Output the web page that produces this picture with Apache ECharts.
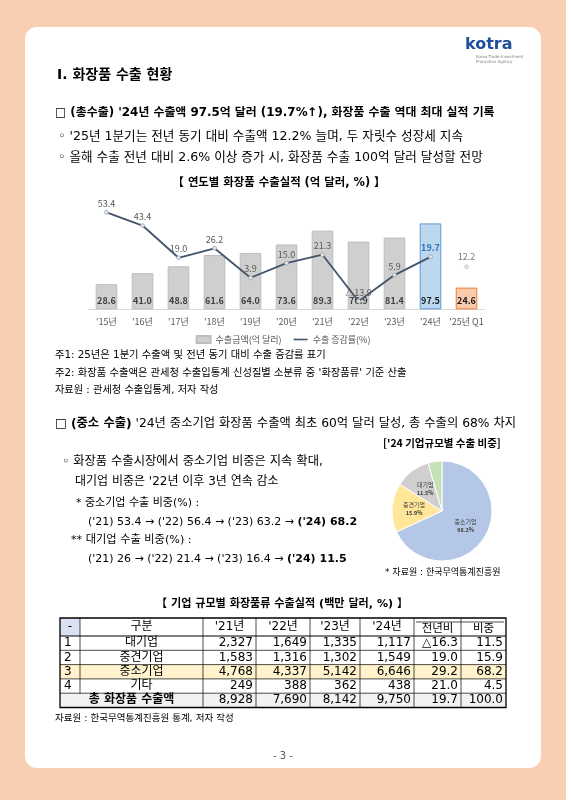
<!DOCTYPE html>
<html><head><meta charset="utf-8">
<script src="https://cdn.jsdelivr.net/npm/echarts/dist/echarts.min.js"></script>
<style>html,body{margin:0;padding:0;background:#F9CFB4;}#c{width:566px;height:800px;}</style>
</head><body><div id="c"></div>
<script>
// ---------- data ----------
const years = ["'15년","'16년","'17년","'18년","'19년","'20년","'21년","'22년","'23년","'24년","'25년 Q1"];
const exportValues = [28.6, 41.0, 48.8, 61.6, 64.0, 73.6, 89.3, 76.9, 81.4, 97.5, 24.6];
const growthRates = [53.4, 43.4, 19.0, 26.2, 3.9, 15.0, 21.3, -13.9, 5.9, 19.7, null];
const q1Growth = [null, null, null, null, null, null, null, null, null, null, 12.2];
const sizeNames = ['중소기업', '중견기업', '대기업', '기타'];
const sizeShares = [68.2, 15.9, 11.5, 4.5];
const tableHead = ['-', '구분', "'21년", "'22년", "'23년", "'24년", '전년비', '비중'];
const rowNo = ['1', '2', '3', '4'];
const rowNames = ['대기업', '중견기업', '중소기업', '기타'];
const v21 = [2327, 1583, 4768, 249];
const v22 = [1649, 1316, 4337, 388];
const v23 = [1335, 1302, 5142, 362];
const v24 = [1117, 1549, 6646, 438];
const yoy = [-16.3, 19.0, 29.2, 21.0];
const share = [11.5, 15.9, 68.2, 4.5];
const totalLabel = '총 화장품 수출액';
const totals = [8928, 7690, 8142, 9750, 19.7, 100.0];

// ---------- helpers ----------
const KR = "'Noto Sans CJK KR', sans-serif";
const NUM = "'DejaVu Sans', 'Noto Sans CJK KR', sans-serif";
const BODY = "'DejaVu Sans', 'Noto Sans CJK KR', sans-serif";
function T(x, y, text, font, align, fill, extra) {
  const st = Object.assign({text: text, font: font, fill: fill || '#000',
    textAlign: align || 'left', textVerticalAlign: 'middle',
    align: align || 'left', verticalAlign: 'middle'}, extra || {});
  return {type: 'text', x: x, y: y, z: 5, style: st, silent: true};
}
function L(x1, y1, x2, y2, w, c) {
  return {type: 'line', z: 6, silent: true, shape: {x1: x1, y1: y1, x2: x2, y2: y2},
    style: {stroke: c || '#000', lineWidth: w || 0.8}};
}
function R(x, y, w, h, fill, z) {
  return {type: 'rect', z: z == null ? 4 : z, silent: true, shape: {x: x, y: y, width: w, height: h}, style: {fill: fill}};
}
const fmtInt = v => v.toLocaleString('en-US');
const fmtPct = v => (v < 0 ? '△' + Math.abs(v).toFixed(1) : v.toFixed(1));
function rich2(size) {
  return {rich: {n: {font: size + 'px ' + BODY, fill: '#000'}, b: {font: 'bold ' + size + 'px ' + BODY, fill: '#000'}}};
}

const g = [];
// card
g.push({type: 'rect', z: 0, silent: true, shape: {x: 25, y: 27, width: 516, height: 741, r: 12}, style: {fill: '#FFFFFF'}});
// logo
g.push(T(465, 45, 'kotra', "bold 16px 'DejaVu Sans', sans-serif", 'left', '#1F4E9A'));
g.push(T(476, 57, 'Korea Trade-Investment', "4px 'DejaVu Sans', sans-serif", 'left', '#7F7F7F'));
g.push(T(476, 61.5, 'Promotion Agency', "4px 'DejaVu Sans', sans-serif", 'left', '#7F7F7F'));

// section texts
g.push(T(57, 75, 'Ⅰ. 화장품 수출 현황', 'bold 14px ' + BODY));
g.push(T(55, 113, "□ (총수출) '24년 수출액 97.5억 달러 (19.7%↑), 화장품 수출 역대 최대 실적 기록", 'bold 11.9px ' + BODY));
g.push(T(58, 137, "◦ '25년 1분기는 전년 동기 대비 수출액 12.2% 늘며, 두 자릿수 성장세 지속", '12.6px ' + BODY));
g.push(T(58, 158, "◦ 올해 수출 전년 대비 2.6% 이상 증가 시, 화장품 수출 100억 달러 달성할 전망", '12.6px ' + BODY));
g.push(T(279, 183, '【 연도별 화장품 수출실적 (억 달러, %) 】', 'bold 11.4px ' + BODY, 'center'));
g.push(T(55, 355, '주1: 25년은 1분기 수출액 및 전년 동기 대비 수출 증감률 표기', '10.3px ' + BODY));
g.push(T(55, 373, "주2: 화장품 수출액은 관세청 수출입통계 신성질별 소분류 중 '화장품류' 기준 산출", '10.3px ' + BODY));
g.push(T(55, 390, '자료원 : 관세청 수출입통계, 저자 작성', '10.2px ' + BODY));
g.push(T(55, 424, "{b|□ (중소 수출)} {n|'24년 중소기업 화장품 수출액 최초 60억 달러 달성, 총 수출의 68% 차지}", '12.3px ' + BODY, 'left', '#000', rich2(12.3)));
g.push(T(383, 443, "['24 기업규모별 수출 비중]", 'bold 10.5px ' + KR));
g.push(T(62, 462, '◦ 화장품 수출시장에서 중소기업 비중은 지속 확대,', '12.3px ' + BODY));
g.push(T(75, 482, "대기업 비중은 '22년 이후 3년 연속 감소", '12px ' + BODY));
g.push(T(76, 503, '* 중소기업 수출 비중(%) :', '11px ' + BODY));
g.push(T(88, 522, "{n|('21) 53.4 → ('22) 56.4 → ('23) 63.2 → }{b|('24) 68.2}", '11px ' + BODY, 'left', '#000', rich2(11)));
g.push(T(71, 540, '** 대기업 수출 비중(%) :', '11.2px ' + BODY));
g.push(T(88, 559, "{n|('21) 26 → ('22) 21.4 → ('23) 16.4 → }{b|('24) 11.5}", '11px ' + BODY, 'left', '#000', rich2(11)));
g.push(T(385, 573, '* 자료원 : 한국무역통계진흥원', '9px ' + BODY));
g.push(T(282, 604, '【 기업 규모별 화장품류 수출실적 (백만 달러, %) 】', 'bold 11.1px ' + BODY, 'center'));
g.push(T(55, 719, '자료원 : 한국무역통계진흥원 통계, 저자 작성', '9.5px ' + BODY));
g.push(T(283, 756, '- 3 -', '10px ' + BODY, 'center', '#595959'));

// ---------- table ----------
const cx = [60, 80, 203, 256, 310, 360, 414, 461, 506];
const ry = [618, 636, 650.3, 664.6, 678.9, 693.2, 707.5];
g.push(R(cx[0], ry[0], cx[1] - cx[0], ry[1] - ry[0], '#D9E1F2'));
g.push(R(cx[0], ry[3], cx[8] - cx[0], ry[4] - ry[3], '#FFF2CC'));
g.push(R(cx[0], ry[5], cx[8] - cx[0], ry[6] - ry[5], '#F2F2F2'));
for (let i = 1; i < 6; i++) g.push(L(cx[0], ry[i], cx[8], ry[i], i === 1 ? 1 : 0.7));
for (let j = 1; j < 8; j++) g.push(L(cx[j], ry[0], cx[j], j === 1 ? ry[5] : ry[6], 0.7));
g.push(L(cx[6] + 2, 622, cx[8] - 2, 622, 0.7));
g.push({type: 'rect', z: 7, silent: true, shape: {x: cx[0], y: ry[0], width: cx[8] - cx[0], height: ry[6] - ry[0]},
  style: {fill: null, stroke: '#000', lineWidth: 1.3}});
const TF = '12px ' + NUM;
tableHead.forEach((h, j) => {
  g.push(T((cx[j] + cx[j + 1]) / 2, j >= 6 ? 629.5 : 627, h, (j >= 6 ? '11.5px ' : '12px ') + NUM, 'center'));
});
const rowVals = [v21, v22, v23, v24];
for (let i = 0; i < 4; i++) {
  const y = (ry[i + 1] + ry[i + 2]) / 2;
  g.push(T(cx[0] + 4, y, rowNo[i], TF, 'left'));
  g.push(T((cx[1] + cx[2]) / 2, y, rowNames[i], TF, 'center'));
  for (let k = 0; k < 4; k++) g.push(T(cx[k + 3] - 3, y, fmtInt(rowVals[k][i]), TF, 'right'));
  g.push(T(cx[7] - 3, y, fmtPct(yoy[i]), TF, 'right'));
  g.push(T(cx[8] - 3, y, share[i].toFixed(1), TF, 'right'));
}
{
  const y = (ry[5] + ry[6]) / 2;
  g.push(T((cx[0] + cx[2]) / 2, y, totalLabel, 'bold 12px ' + NUM, 'center'));
  totals.forEach((v, k) => {
    g.push(T(cx[k + 3] - 3, y, k < 4 ? fmtInt(v) : v.toFixed(1), TF, 'right'));
  });
}

// ---------- chart ----------
const chart = echarts.init(document.getElementById('c'), null, {renderer: 'canvas'});
const barColors = exportValues.map((v, i) => i === 9 ? {color: '#BDD7EE', borderColor: '#5B9BD5'}
  : i === 10 ? {color: '#F8CBAD', borderColor: '#ED7D31'} : null);
chart.setOption({
  animation: false,
  backgroundColor: 'transparent',
  textStyle: {fontFamily: KR},
  graphic: {elements: g},
  legend: {
    left: 'center', top: 330, itemWidth: 14, itemHeight: 7, itemGap: 12,
    textStyle: {fontSize: 9, color: '#595959', fontFamily: KR},
    data: [
      {name: '수출금액(억 달러)', icon: 'rect'},
      {name: '수출 증감률(%)', icon: 'path://M0,0L14,0L14,1.6L0,1.6Z', itemStyle: {color: '#44546A', borderWidth: 0}}
    ]
  },
  grid: {left: 88.5, right: 81.5, top: 203.6, bottom: 490.7, containLabel: false},
  xAxis: {
    type: 'category', data: years,
    axisLine: {lineStyle: {color: '#D9D9D9'}}, axisTick: {show: false},
    axisLabel: {fontSize: 9, color: '#595959', margin: 8, interval: 0, fontFamily: KR}
  },
  yAxis: [
    {type: 'value', min: 0, max: 120, show: false, splitLine: {show: false}},
    {type: 'value', min: -20, max: 60, show: false, splitLine: {show: false}}
  ],
  series: [
    {
      name: '수출금액(억 달러)', type: 'bar', barCategoryGap: '40%',
      itemStyle: {color: '#D0CFCF', borderColor: '#BDBDBD', borderWidth: 1},
      label: {show: true, position: 'insideBottom', distance: 4, fontSize: 9, fontWeight: 'bold', color: '#404040', fontFamily: KR,
        formatter: p => p.value.toFixed(1)},
      data: exportValues.map((v, i) => barColors[i] ? {value: v, itemStyle: barColors[i], label: {color: '#1A1A1A'}} : v)
    },
    {
      name: '수출 증감률(%)', type: 'line', yAxisIndex: 1,
      lineStyle: {color: '#44546A', width: 1.8},
      itemStyle: {color: '#E4E4E4', borderColor: '#8497B0', borderWidth: 0.6},
      symbol: 'circle', symbolSize: 4, showAllSymbol: true,
      label: {show: true, position: 'top', distance: 2, fontSize: 9, color: '#595959', fontFamily: KR,
        formatter: p => fmtPct(p.value)},
      data: growthRates.map((v, i) => i === 9 ? {value: v, label: {color: '#2E75B6', fontWeight: 'bold'}} : v)
    },
    {
      name: 'Q1', type: 'scatter', yAxisIndex: 1, symbolSize: 4,
      itemStyle: {color: '#E4E4E4', borderColor: '#A6A6A6', borderWidth: 0.6},
      label: {show: true, position: 'top', distance: 3, fontSize: 9, color: '#595959', fontFamily: KR,
        formatter: p => p.value.toFixed(1)},
      data: q1Growth
    },
    {
      type: 'pie', center: [442, 511], radius: 50, startAngle: 90, clockwise: true,
      color: ['#B4C7E7', '#FFE699', '#D0CECE', '#C5E0B4'],
      itemStyle: {borderColor: '#FFFFFF', borderWidth: 1},
      label: {show: true, position: 'inside', formatter: '{n|{b}}\n{p|{c}%}', lineHeight: 8,
        rich: {n: {fontSize: 6, color: '#404040', fontFamily: KR, lineHeight: 8},
               p: {fontSize: 5.5, color: '#404040', fontWeight: 'bold', fontFamily: KR, lineHeight: 8}}},
      labelLine: {show: false}, emphasis: {disabled: true}, silent: true,
      data: sizeNames.map((n, i) => ({name: n, value: sizeShares[i]}))
    }
  ]
});
</script>
</body></html>
